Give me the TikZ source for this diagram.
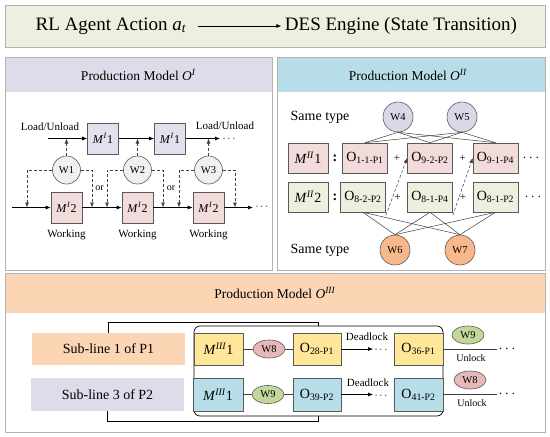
\documentclass[tikz,border=0pt]{standalone}
\usepackage{fontspec}
\setmainfont{Liberation Serif}
\usetikzlibrary{
  arrows.meta,
  calc,
  positioning,
  shapes.geometric,
}
\definecolor{topgreen}{RGB}{235, 241, 222}
\definecolor{lavhead}{RGB}{224, 219, 234}
\definecolor{bluehead}{RGB}{183, 222, 232}
\definecolor{peachhead}{RGB}{252, 213, 181}
\definecolor{lavbox}{RGB}{228, 223, 236}
\definecolor{pinkbox}{RGB}{242, 220, 219}
\definecolor{greenbox}{RGB}{235, 241, 222}
\definecolor{yellowbox}{RGB}{255, 230, 153}
\definecolor{bluebox}{RGB}{183, 222, 232}
\definecolor{graycircle}{RGB}{240, 240, 240}
\definecolor{lavcircle}{RGB}{220, 215, 232}
\definecolor{orangecircle}{RGB}{247, 185, 140}
\definecolor{rosecircle}{RGB}{230, 185, 184}
\definecolor{olivecircle}{RGB}{196, 215, 155}
\tikzstyle{arrow} = [
  -{Latex[length=5pt,width=4pt]},
  line width=0.7pt,
]
\tikzstyle{dasharrow} = [
  arrow,
  black!75,
  dash pattern=on 3pt off 2pt,
]
\tikzstyle{link} = [line width=0.5pt, black!75]
\tikzstyle{panel} = [draw=black!30, line width=0.8pt]
\tikzstyle{ttl} = [font=\fontsize{19}{22}\selectfont]
\tikzstyle{hdr} = [font=\fontsize{13.5}{16}\selectfont]
\tikzstyle{txt} = [font=\fontsize{11}{13}\selectfont, inner sep=0pt]
\tikzstyle{mid} = [font=\fontsize{14}{16}\selectfont, inner sep=0pt]
\tikzstyle{tiny} = [font=\fontsize{10}{12}\selectfont, inner sep=0pt]
\tikzstyle{mbox} = [
  draw=black!65,
  line width=0.6pt,
  inner sep=0pt,
  minimum width=31pt,
  minimum height=31pt,
  font=\fontsize{12}{14}\selectfont,
]
\tikzstyle{obox} = [
  draw=black!65,
  line width=0.6pt,
  inner sep=0pt,
  minimum width=45pt,
  minimum height=30pt,
  font=\fontsize{14}{16}\selectfont,
]
\tikzstyle{wnode} = [
  circle,
  draw=black!65,
  line width=0.6pt,
  inner sep=0pt,
  minimum size=28pt,
  font=\fontsize{10.5}{12}\selectfont,
]
\tikzstyle{wellipse} = [
  ellipse,
  draw=black!65,
  line width=0.6pt,
  inner sep=0pt,
  minimum width=32pt,
  minimum height=18pt,
  font=\fontsize{10.5}{12}\selectfont,
]

\begin{document}
\begin{tikzpicture}[x=1pt, y=-1pt]

        \useasboundingbox (0,0) rectangle (550,437);

        \filldraw [panel, fill=topgreen] (5,5) rectangle (545,47);

        \node (agent) [ttl] at (111,26) {RL Agent Action \textit{a}\textsubscript{\textit{t}}};

        \node (engine) [ttl] at (401,26) {DES Engine (State Transition)};

        \draw [arrow, shorten <=8pt] (agent) -- (engine);

        % production model O^I
        \filldraw [panel, fill=white] (5,57) rectangle (272,270);
        \fill [lavhead] (5,57) rectangle (272,92);
        \draw [panel] (5,57) rectangle (272,270);

        \node (titleI) [hdr] at (138.5,75) {Production Model \textit{O}\textsuperscript{\textit{I}}};

        \node (loadA) [txt] at (50,127) {Load/Unload};
        \node (loadB) [txt] at (225,125.5) {Load/Unload};

        \node (mOneA) [mbox, fill=lavbox] at (103,138.5) {\textit{M}\textsuperscript{\textit{I}}1};
        \node (mOneB) [mbox, fill=lavbox] at (170,138.5) {\textit{M}\textsuperscript{\textit{I}}1};

        \coordinate (inA) at (48,138.5);
        \coordinate (outA) at (220,138.5);
        \node (dotsA) [txt] at (229,139.5) {$\cdots$};

        \draw [arrow] (inA) -- (mOneA);
        \draw [arrow] (mOneA) -- (mOneB);
        \draw [arrow] (mOneB) -- (outA);

        \foreach \i/\x/\l/\r in {1/66.5/27/92, 2/137.5/107/163, 3/208.5/179/235} {
          \node (w\i) [wnode, fill=graycircle] at (\x,170) {W\i};
          \node (mTwo\i) [mbox, fill=pinkbox] at (\x,207.5) {\textit{M}\textsuperscript{\textit{I}}2};
          \node (work\i) [txt] at (\x,235) {Working};
          \coordinate (up\i) at (\x,138.5);
          \coordinate (fl\i) at (\l,207.5);
          \coordinate (fr\i) at (\r,207.5);
          \draw [dasharrow] (w\i) -- (up\i);
          \draw [dasharrow] (w\i.west) -| (fl\i);
          \draw [dasharrow] (w\i.east) -| (fr\i);
        }

        \coordinate (inB) at (12,207.5);
        \coordinate (outB) at (253,207.5);
        \node (dotsB) [txt] at (262,207.5) {$\cdots$};

        \draw [arrow] (inB) -- (mTwo1);
        \draw [arrow] (mTwo1) -- (mTwo2);
        \draw [arrow] (mTwo2) -- (mTwo3);
        \draw [arrow] (mTwo3) -- (outB);

        \node (orA) [tiny] at (99.5,188) {or};
        \node (orB) [tiny] at (171,188) {or};

        % production model O^II
        \fill [white] (277,57) rectangle (545,270);
        \fill [bluehead] (277,57) rectangle (545,92);
        \draw [panel] (277,57) rectangle (545,270);

        \node (titleII) [hdr] at (408,75) {Production Model \textit{O}\textsuperscript{\textit{II}}};

        \node (sameA) [mid] at (320,117) {Same type};
        \node (w4) [wnode, minimum size=30pt, fill=lavcircle] at (398,117) {W4};
        \node (w5) [wnode, minimum size=30pt, fill=lavcircle] at (462,117) {W5};

        \node (mIIa) [obox, minimum width=40pt, fill=pinkbox] at (308,158) {\textit{M}\textsuperscript{\textit{II}}1};
        \node (colA) [mid] at (335,158) {\textbf{:}};
        \node (o11) [obox, fill=pinkbox] at (365,158) {O\textsubscript{1-1-P1}};
        \node (plusA) [txt] at (397,158) {+};
        \node (o92) [obox, fill=pinkbox] at (430,158) {O\textsubscript{9-2-P2}};
        \node (plusB) [txt] at (462.5,158) {+};
        \node (o91) [obox, fill=pinkbox] at (495.5,158) {O\textsubscript{9-1-P4}};
        \node (dotsC) [mid] at (531,158) {$\cdots$};

        \node (mIIb) [obox, minimum width=40pt, fill=greenbox] at (308,197) {\textit{M}\textsuperscript{\textit{II}}2};
        \node (colB) [mid] at (335,197) {\textbf{:}};
        \node (o82) [obox, fill=greenbox] at (363,197) {O\textsubscript{8-2-P2}};
        \node (plusC) [txt] at (397.5,197) {+};
        \node (o81) [obox, fill=greenbox] at (430,197) {O\textsubscript{8-1-P4}};
        \node (plusD) [txt] at (463,197) {+};
        \node (o812) [obox, fill=greenbox] at (495.5,197) {O\textsubscript{8-1-P2}};
        \node (dotsD) [mid] at (533,197) {$\cdots$};

        \node (sameB) [mid] at (320,250) {Same type};
        \node (w6) [wnode, minimum size=30pt, fill=orangecircle] at (395,250) {W6};
        \node (w7) [wnode, minimum size=30pt, fill=orangecircle] at (460,250) {W7};

        \foreach \w in {w4, w5} {
          \foreach \o in {o11, o92, o91} {
            \draw [link] (\w.south) -- (\o.north);
          }
        }

        \foreach \w in {w6, w7} {
          \foreach \o in {o82, o81, o812} {
            \draw [link] (\o.south) -- (\w.north);
          }
        }

        \draw [dasharrow, line width=0.5pt] ([yshift=-3pt]o82.south east) -- (o92.west);
        \draw [dasharrow, line width=0.5pt] ([yshift=-3pt]o81.south east) -- (o91.west);

        % production model O^III
        \fill [white] (5,273) rectangle (545,432);
        \fill [peachhead] (5,273) rectangle (545,313);
        \draw [panel] (5,273) rectangle (545,432);

        \node (titleIII) [hdr] at (275,293) {Production Model \textit{O}\textsuperscript{\textit{III}}};

        \node (subA) [mid, fill=peachhead, minimum width=153pt, minimum height=32pt] at (108.5,349) {Sub-line 1 of P1};
        \node (subB) [mid, fill=lavhead, minimum width=153pt, minimum height=33pt] at (107.5,394.5) {Sub-line 3 of P2};

        \node (grp) [draw, line width=0.7pt, rounded corners=6pt, minimum width=249pt, minimum height=90pt] at (318.5,371) {};

        \coordinate (grpTop) at (318.5,322);
        \coordinate (grpBot) at (318.5,421);

        \draw [line width=0.7pt] (subA.north) |- (grpTop) -- (grp.north);
        \draw [line width=0.7pt] (subB.south) |- (grpBot) -- (grp.south);

        \node (mIIIa) [mbox, minimum width=49pt, minimum height=32pt, font=\fontsize{14}{16}\selectfont, fill=yellowbox] at (218.5,349) {\textit{M}\textsuperscript{\textit{III}}1};
        \node (w8) [wellipse, fill=rosecircle] at (269,349) {W8};
        \node (o28) [obox, minimum width=48pt, minimum height=32pt, fill=yellowbox] at (317,349) {O\textsubscript{28-P1}};
        \node (lockA) [txt] at (367,337) {Deadlock};
        \coordinate (waitA) at (373,349);
        \node (dotsE) [txt] at (381,350.5) {$\cdots$};
        \node (o36) [obox, minimum width=49pt, minimum height=32pt, fill=yellowbox] at (418.5,349) {O\textsubscript{36-P1}};
        \coordinate (endA) at (497,349);
        \node (dotsF) [mid] at (507,349) {$\cdots$};
        \node (w9b) [wellipse, fill=olivecircle] at (468,335) {W9};
        \node (freeA) [tiny] at (471,358) {Unlock};

        \draw [link] (mIIIa) -- (w8);
        \draw [link] (w8) -- (o28);
        \draw [arrow, line width=0.5pt] (o28) -- (waitA);
        \draw [link] (o36) -- (endA);

        \node (mIIIb) [mbox, minimum width=50pt, minimum height=33pt, font=\fontsize{14}{16}\selectfont, fill=bluebox] at (218,394.5) {\textit{M}\textsuperscript{\textit{III}}1};
        \node (w9) [wellipse, fill=olivecircle] at (268,394.5) {W9};
        \node (o39) [obox, minimum width=48pt, minimum height=33pt, fill=bluebox] at (317,394.5) {O\textsubscript{39-P2}};
        \node (lockB) [txt] at (368,382.5) {Deadlock};
        \coordinate (waitB) at (373,394.5);
        \node (dotsG) [txt] at (381,396) {$\cdots$};
        \node (o41) [obox, minimum width=49pt, minimum height=33pt, fill=bluebox] at (418.5,394.5) {O\textsubscript{41-P2}};
        \coordinate (endB) at (497,394.5);
        \node (dotsH) [mid] at (507,394.5) {$\cdots$};
        \node (w8b) [wellipse, fill=rosecircle] at (470,380) {W8};
        \node (freeB) [tiny] at (472,403) {Unlock};

        \draw [link] (mIIIb) -- (w9);
        \draw [link] (w9) -- (o39);
        \draw [arrow, line width=0.5pt] (o39) -- (waitB);
        \draw [link] (o41) -- (endB);

      \end{tikzpicture}
\end{document}
